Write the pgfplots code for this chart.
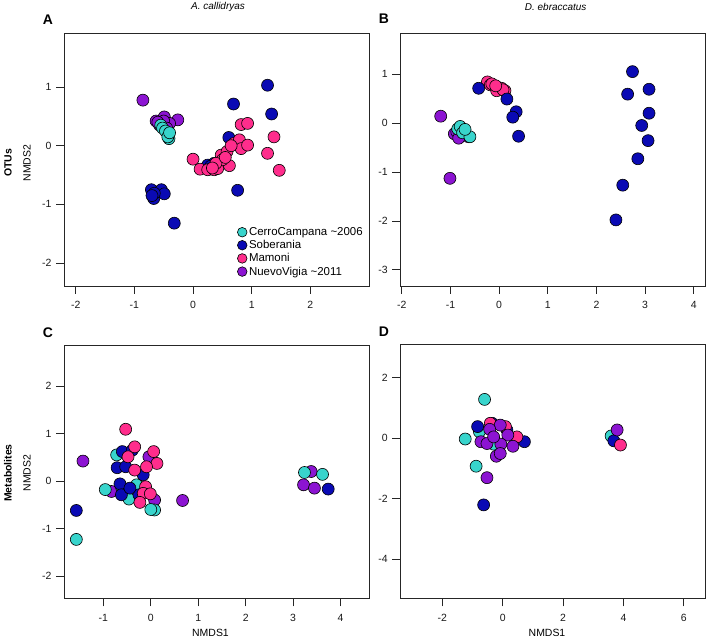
\documentclass[border=0pt]{standalone}
\usepackage{pgfplots}
\pgfplotsset{compat=1.18}
\usepackage{fontspec}
\setmainfont{Liberation Sans}
\definecolor{cyanC}{HTML}{38D4CC}
\definecolor{blueS}{HTML}{0A0AB4}
\definecolor{pinkM}{HTML}{FF2D8C}
\definecolor{purpN}{HTML}{8C14D2}
\pgfplotsset{
  common/.style={scale only axis, axis line style={line width=0.8bp, black!85},
    tick style={line width=0.8bp, black!85}, tick align=outside,
    xtick pos=lower, ytick pos=left, major tick length=8bp,
    ticklabel style={font=\fontsize{10.5}{12}\selectfont, text=black!90},
    xticklabel style={yshift=-4bp}, yticklabel style={xshift=-1bp},
    /pgf/number format/assume math mode=true, anchor=south west},
  dot/.style={only marks, mark=*, mark size=6bp,
    mark options={draw=black, line width=0.6bp, fill=#1}},
}
\begin{document}
\begin{tikzpicture}[x=1bp,y=1bp]
\useasboundingbox (0,0) rectangle (708,640);
% Panel A
\begin{axis}[common, at={(64bp,354bp)}, width=305bp, height=253bp,
  xmin=-2.2, xmax=3.0, ymin=-2.39, ymax=1.92,
  xtick={-2,-1,0,1,2}, ytick={-2,-1,0,1},
  legend style={draw=none, fill=none, at={(0.568,0.24)}, anchor=north west,
    font=\fontsize{11.5}{13}\selectfont, row sep=-0.6bp, inner sep=0pt},
  legend cell align=left]
\addlegendimage{only marks, mark=*, mark size=4.8bp, mark options={draw=black, line width=0.6bp, fill=cyanC}}
\addlegendentry{CerroCampana \textasciitilde2006}
\addlegendimage{only marks, mark=*, mark size=4.8bp, mark options={draw=black, line width=0.6bp, fill=blueS}}
\addlegendentry{Soberania}
\addlegendimage{only marks, mark=*, mark size=4.8bp, mark options={draw=black, line width=0.6bp, fill=pinkM}}
\addlegendentry{Mamoni}
\addlegendimage{only marks, mark=*, mark size=4.8bp, mark options={draw=black, line width=0.6bp, fill=purpN}}
\addlegendentry{NuevoVigia \textasciitilde2011}
\addplot[dot=blueS, forget plot] coordinates {(1.27,1.03) (0.69,0.71) (1.34,0.54) (0.61,0.14) (0.76,-0.76) (-0.32,-1.32) (-0.71,-0.75) (-0.54,-0.75) (-0.67,-0.90) (-0.49,-0.82) (-0.66,-0.81) (-0.70,-0.85) (0.25,-0.33) (0.36,-0.30) (0.30,-0.35)};
\addplot[dot=pinkM, forget plot] coordinates {(0,-0.23) (0.12,-0.40) (0.25,-0.41) (0.36,-0.41) (0.42,-0.39) (0.48,-0.16) (0.58,-0.10) (0.62,-0.34) (0.50,-0.24) (0.70,0.04) (0.79,0.10) (0.82,-0.05) (0.93,0.01) (0.82,0.36) (0.93,0.38) (1.38,0.15) (1.27,-0.13) (1.47,-0.42) (0.39,-0.30) (0.33,-0.38) (0.55,-0.20) (0.65,0.0)};
\addplot[dot=purpN, forget plot] coordinates {(-0.855,0.776) (-0.63,0.42) (-0.49,0.49) (-0.26,0.44) (-0.57,0.35) (-0.40,0.38) (-0.50,0.42) (-0.60,0.40) (-0.45,0.30)};
\addplot[dot=cyanC, forget plot] coordinates {(-0.55,0.35) (-0.52,0.30) (-0.47,0.25) (-0.41,0.12) (-0.43,0.15) (-0.40,0.22)};
\end{axis}
% Panel B
\begin{axis}[common, at={(400.3bp,354bp)}, width=304.7bp, height=253bp,
  xmin=-2.03, xmax=4.23, ymin=-3.33, ymax=1.84,
  xtick={-2,-1,0,1,2,3,4}, ytick={-3,-2,-1,0,1}]
\addplot[dot=pinkM] coordinates {(-0.24,0.84) (-0.18,0.78) (-0.15,0.80) (-0.05,0.74) (0.05,0.71) (0.12,0.66) (-0.05,0.66) (0.08,0.68) (-0.07,0.76)};
\addplot[dot=blueS] coordinates {(2.74,1.05) (2.64,0.59) (3.08,0.69) (3.08,0.20) (2.93,-0.05) (3.06,-0.36) (2.85,-0.73) (2.54,-1.27) (2.40,-1.98) (-0.42,0.71) (0.16,0.49) (0.35,0.23) (0.28,0.12) (0.40,-0.27)};
\addplot[dot=purpN] coordinates {(-1.20,0.14) (-1.01,-1.13) (-0.92,-0.22) (-0.87,-0.18) (-0.78,-0.25) (-0.63,-0.28) (-0.83,-0.31)};
\addplot[dot=cyanC] coordinates {(-0.85,-0.12) (-0.80,-0.07) (-0.75,-0.20) (-0.60,-0.28) (-0.70,-0.13)};
\end{axis}
% Panel C
\begin{axis}[common, at={(64bp,41.7bp)}, width=305bp, height=252.6bp,
  xmin=-1.83, xmax=4.6, ymin=-2.47, ymax=2.85,
  xtick={-1,0,1,2,3,4}, ytick={-2,-1,0,1,2}]
\addplot[dot=purpN] coordinates {(-1.43,0.42) (0.67,-0.41) (-0.83,-0.22) (3.38,0.20) (3.22,-0.08) (3.45,-0.15) (0.08,-0.40) (-0.04,0.51)};
\addplot[dot=cyanC] coordinates {(-1.57,-1.23) (-0.96,-0.18) (-0.72,0.55) (-0.62,-0.12) (-0.30,-0.08) (-0.46,-0.38) (0.08,-0.61) (0,-0.60) (3.24,0.18) (3.62,0.14)};
\addplot[dot=blueS] coordinates {(-1.57,-0.62) (-0.60,0.62) (-0.39,0.65) (-0.71,0.28) (-0.53,0.30) (-0.65,-0.06) (-0.62,-0.29) (-0.25,-0.29) (-0.44,-0.15) (-0.16,0.13) (3.74,-0.17)};
\addplot[dot=pinkM] coordinates {(-0.53,1.09) (-0.48,0.51) (-0.34,0.72) (0.06,0.62) (0.13,0.37) (-0.09,0.30) (-0.34,0.23) (-0.11,-0.12) (-0.16,-0.26) (-0.23,-0.45) (-0.01,-0.27)};
\end{axis}
% Panel D
\begin{axis}[common, at={(400.3bp,41.7bp)}, width=304.7bp, height=253.6bp,
  xmin=-3.39, xmax=6.7, ymin=-5.3, ymax=3.09,
  xtick={-2,0,2,4,6}, ytick={-4,-2,0,2}]
\addplot[dot=cyanC] coordinates {(-0.60,1.28) (-1.24,-0.03) (-0.88,-0.93) (-0.77,0.21) (-0.30,-0.20) (3.59,0.07)};
\addplot[dot=blueS] coordinates {(-0.63,-2.21) (-0.83,0.38) (0.72,-0.12) (-0.35,0.49) (0.14,0.27) (3.68,-0.09)};
\addplot[dot=pinkM] coordinates {(0.47,0.04) (-0.41,0.49) (0.09,0.38) (3.90,-0.23)};
\addplot[dot=purpN] coordinates {(3.79,0.27) (-0.52,-1.31) (-0.08,0.43) (-0.43,0.29) (-0.72,-0.12) (-0.52,-0.18) (0.17,0.10) (0.34,-0.27) (-0.06,-0.20) (-0.21,-0.60) (-0.08,-0.51) (-0.30,0.04)};
\end{axis}
% Labels
\node[font=\fontsize{10}{12}\selectfont\itshape] at (218,633) {A. callidryas};
\node[font=\fontsize{10}{12}\selectfont\itshape] at (555.7,633) {D. ebraccatus};
\node[font=\fontsize{14}{16}\selectfont\bfseries] at (48,620) {A};
\node[font=\fontsize{14}{16}\selectfont\bfseries] at (384,621) {B};
\node[font=\fontsize{14}{16}\selectfont\bfseries] at (48,307) {C};
\node[font=\fontsize{14}{16}\selectfont\bfseries] at (384,308) {D};
\node[font=\fontsize{10.5}{12}\selectfont\bfseries, rotate=90] at (8,477) {OTUs};
\node[font=\fontsize{10.5}{12}\selectfont\bfseries, rotate=90] at (8,167) {Metabolites};
\node[font=\fontsize{10.5}{12}\selectfont, rotate=90] at (27,477) {NMDS2};
\node[font=\fontsize{10.5}{12}\selectfont, rotate=90] at (27,167) {NMDS2};
\node[font=\fontsize{10.5}{12}\selectfont] at (210.5,7) {NMDS1};
\node[font=\fontsize{10.5}{12}\selectfont] at (547,7) {NMDS1};
\end{tikzpicture}
\end{document}
